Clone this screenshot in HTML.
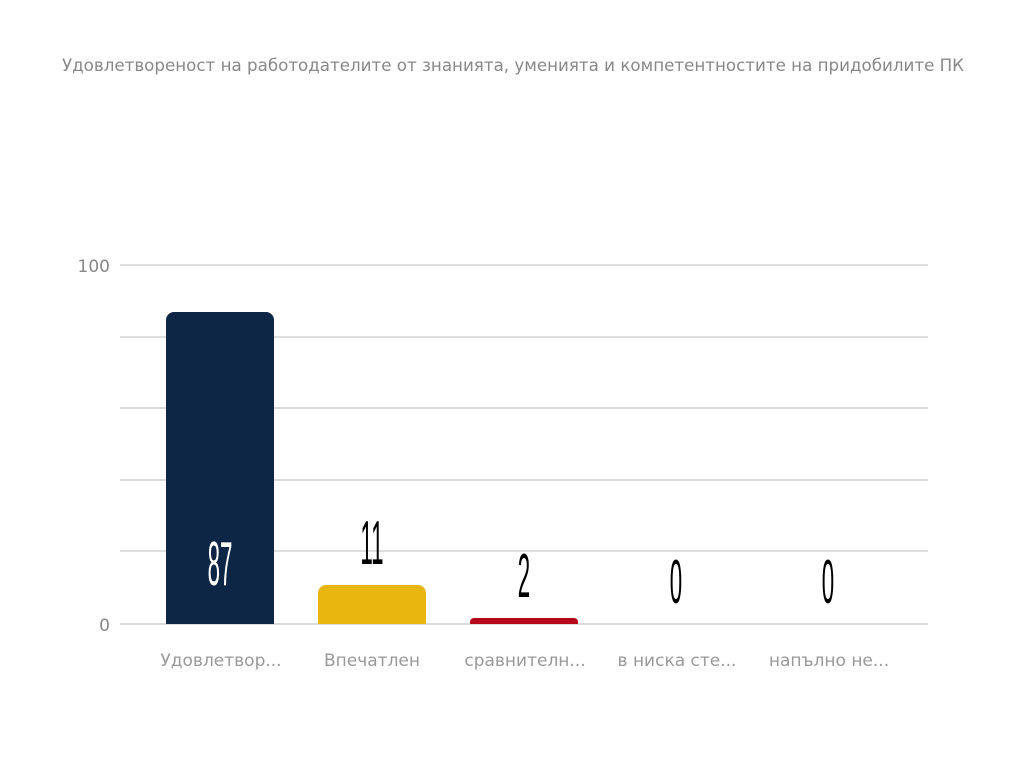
<!DOCTYPE html>
<html><head><meta charset="utf-8"><style>body{margin:0;background:#fff}</style></head>
<body>
<svg width="1024" height="768" xmlns="http://www.w3.org/2000/svg" font-family="Liberation Sans, DejaVu Sans, sans-serif">
<rect width="1024" height="768" fill="#fff"/>
<text x="513" y="71" text-anchor="middle" font-family="DejaVu Sans, sans-serif" font-size="16.7" fill="#888">Удовлетвореност на работодателите от знанията, уменията и компетентностите на придобилите ПК</text>
<g stroke="#ddd" stroke-width="2">
<line x1="120" x2="928" y1="265" y2="265"/><line x1="120" x2="928" y1="337" y2="337"/>
<line x1="120" x2="928" y1="408" y2="408"/><line x1="120" x2="928" y1="480" y2="480"/>
<line x1="120" x2="928" y1="551" y2="551"/><line x1="120" x2="928" y1="624" y2="624"/>
</g>
<text x="110" y="272" text-anchor="end" font-family="DejaVu Sans, sans-serif" font-size="17" fill="#888">100</text>
<text x="110" y="631" text-anchor="end" font-family="DejaVu Sans, sans-serif" font-size="17" fill="#888">0</text>
<path d="M166 624 V320 a8 8 0 0 1 8 -8 H266 a8 8 0 0 1 8 8 V624Z" fill="#0e2645"/>
<path d="M318 624 V593 a8 8 0 0 1 8 -8 H418 a8 8 0 0 1 8 8 V624Z" fill="#e9b50f"/>
<path d="M470 624 V622 a4 4 0 0 1 4 -4 H574 a4 4 0 0 1 4 4 V624Z" fill="#b5081b"/>
<g font-size="62" text-anchor="middle">
<text transform="translate(220,585) scale(0.36,1)" fill="#fff">87</text>
<text transform="translate(372,564) scale(0.36,1)" fill="#000">11</text>
<text transform="translate(524,597) scale(0.36,1)" fill="#000">2</text>
<text transform="translate(676,603) scale(0.36,1)" fill="#000">0</text>
<text transform="translate(828,603) scale(0.36,1)" fill="#000">0</text>
</g>
<g font-family="DejaVu Sans, sans-serif" font-size="17" fill="#999" text-anchor="middle">
<text x="221" y="666">Удовлетвор...</text>
<text x="372" y="666">Впечатлен</text>
<text x="525" y="666">сравнителн...</text>
<text x="677" y="666">в ниска сте...</text>
<text x="829" y="666">напълно не...</text>
</g>
</svg>
</body></html>
